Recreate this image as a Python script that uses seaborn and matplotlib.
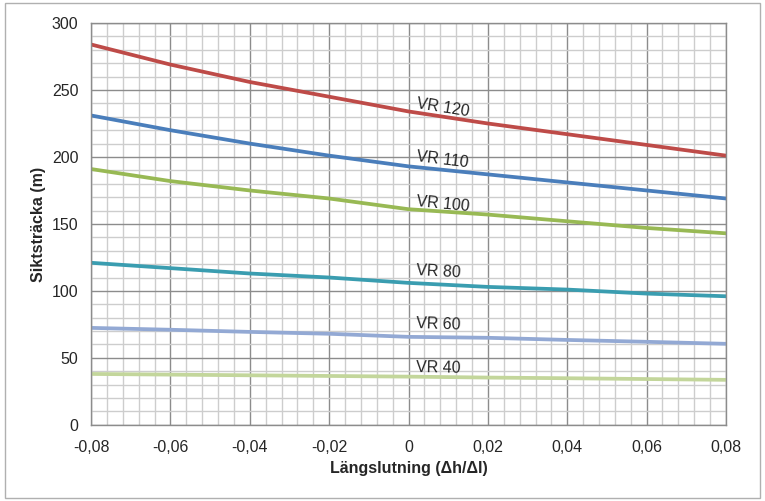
import numpy as np
import pandas as pd
import matplotlib.pyplot as plt
from matplotlib.ticker import MultipleLocator, FuncFormatter
from matplotlib.patches import Rectangle
import seaborn as sns

# Längslutning values
slope = [-0.08, -0.06, -0.04, -0.02, 0.0, 0.02, 0.04, 0.06, 0.08]

vr120 = [284, 269, 256, 245, 234, 225, 217, 209, 201]
vr110 = [231, 220, 210, 201, 193, 187, 181, 175, 169]
vr100 = [191, 182, 175, 169, 161, 157, 152, 147, 143]
vr80 = [121, 117, 113, 110, 106, 103, 101, 98, 96]
vr60 = [72.4, 71, 69.4, 68, 65.7, 65, 63.4, 62, 60.5]
vr40 = [38, 37.5, 37, 36.5, 36, 35.3, 34.8, 34.2, 33.6]

series_names = ["VR 120", "VR 110", "VR 100", "VR 80", "VR 60", "VR 40"]
series_values = [vr120, vr110, vr100, vr80, vr60, vr40]
colors = ["#BE4B48", "#4A7EBB", "#98B954", "#3A9DB0", "#93A9D4", "#C3D69B"]

# label placement (x, y, rotation)
label_x = [0.002, 0.002, 0.002, 0.002, 0.002, 0.002]
label_y = [240, 200, 167, 115, 76, 43]
label_rot = [-9, -7, -5.5, -3, -2, -1]


def build_frame():
    rows = []
    for name, vals in zip(series_names, series_values):
        for x, y in zip(slope, vals):
            rows.append({"slope": x, "dist": y, "serie": name})
    return pd.DataFrame(rows)


def comma(v, pos):
    if abs(v) < 1e-9:
        return "0"
    return f"{v:.2f}".replace(".", ",")


def main():
    df = build_frame()
    sns.set_style("white")
    plt.rcParams["font.family"] = ["Liberation Sans", "DejaVu Sans"]

    fig = plt.figure(figsize=(7.65, 5.01), dpi=100)
    ax = fig.add_axes([0.119, 0.152, 0.830, 0.802])

    sns.lineplot(data=df, x="slope", y="dist", hue="serie", palette=colors,
                 hue_order=series_names, linewidth=2.7, legend=False, ax=ax)

    ax.set_xlim(-0.08, 0.08)
    ax.set_ylim(0, 300)
    ax.xaxis.set_major_locator(MultipleLocator(0.02))
    ax.xaxis.set_minor_locator(MultipleLocator(0.004))
    ax.yaxis.set_major_locator(MultipleLocator(50))
    ax.yaxis.set_minor_locator(MultipleLocator(10))
    ax.xaxis.set_major_formatter(FuncFormatter(comma))

    ax.grid(which="minor", color="#cdcdcd", linewidth=1.0)
    ax.grid(which="major", color="#8c8c8c", linewidth=1.0)
    ax.set_axisbelow(True)
    for sp in ax.spines.values():
        sp.set_color("#8c8c8c")
        sp.set_linewidth(1.0)

    ax.tick_params(axis="both", which="major", labelsize=11.5, length=5,
                   color="#8c8c8c", direction="out", pad=4)
    ax.tick_params(axis="both", which="minor", length=0)
    ax.tick_params(axis="x", pad=6)

    ax.set_xlabel("Längslutning (\u0394h/\u0394l)", fontsize=11.5,
                  fontweight="bold", labelpad=4)
    ax.set_ylabel("Siktsträcka (m)", fontsize=11.5, fontweight="bold",
                  labelpad=4)

    for name, x, y, r in zip(series_names, label_x, label_y, label_rot):
        ax.text(x, y, name, fontsize=11.5, rotation=r, ha="left",
                va="center", rotation_mode="anchor")

    fig.patches.append(Rectangle((0.006, 0.006), 0.988, 0.988,
                                 transform=fig.transFigure, fill=False,
                                 edgecolor="#b0b0b0", linewidth=1.0))

    fig.savefig("out.png", dpi=100)
    plt.close(fig)


if __name__ == "__main__":
    main()
